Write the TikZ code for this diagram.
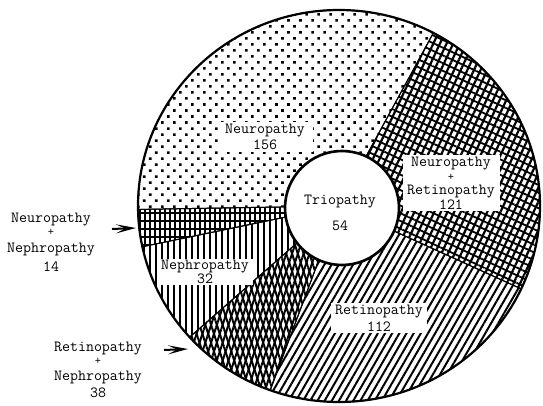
\documentclass[tikz,border=0pt]{standalone}
\usepackage{fontspec}
\usepackage{tikz}
\usetikzlibrary{patterns.meta,arrows.meta}
\newcommand{\plus}{{\fontsize{12}{12}\selectfont +}}

\begin{document}
\begin{tikzpicture}[x=1pt, y=1pt,
                    every node/.style={font=\ttfamily\fontsize{15.5}{16}\selectfont, align=center},
                    box/.style={fill=white, inner sep=2pt},
                    neurofill/.style={pattern={Dots[radius=1.8pt, distance=8.5pt, angle=45]}},
                    nrfill/.style={pattern={Lines[angle=65, distance=6pt, line width=2.2pt]},
                                   postaction={pattern={Lines[angle=-25, distance=7pt, line width=1.8pt]}}},
                    retfill/.style={pattern={Lines[angle=60, distance=6.2pt, line width=2pt]}},
                    rnfill/.style={pattern={Lines[angle=72, distance=5.5pt, line width=2pt]},
                                   postaction={pattern={Lines[angle=108, distance=5.5pt, line width=2pt]}}},
                    nephfill/.style={pattern={Lines[angle=90, distance=6pt, line width=2.2pt]}},
                    nnfill/.style={pattern={Lines[angle=90, distance=5pt, line width=2pt]},
                                   postaction={pattern={Lines[angle=0, distance=8pt, line width=1.5pt]}}},
                    pointer/.style={line width=2pt, -{Stealth[length=20pt, width=9pt, inset=9pt]}}]
  \useasboundingbox (0,0) rectangle (543,405);
  \coordinate (o) at (339,199);
  % sectors of the ring
  \foreach \a/\b/\s in {62/181/neurofill, 181/192/nnfill, 192/222/nephfill,
                        222/250/rnfill, 250/335/retfill, 335/422/nrfill}
    \draw[line width=1pt, \s] (o) -- +(\a:201 and 196)
      arc[start angle=\a, end angle=\b, x radius=201, y radius=196] -- cycle;
  \draw[line width=2.2pt] (o) ellipse [x radius=201, y radius=196];
  \node[circle, draw, fill=white, line width=2.6pt, minimum size=114pt] (tri) at (342,197) {};
  \node (trilabel) at (340,192) {Triopathy\\[10pt]54};
  % labels
  \node[box, minimum width=95pt] (neuro) at (265,268) {Neuropathy\\[0pt]156};
  \node[box, minimum width=97pt] (neuroret) at (451,222) {Neuropathy\\[-2pt]\plus\\[-2pt]Retinopathy\\[-1pt]121};
  \node[box, minimum width=96pt] (ret) at (379,87) {Retinopathy\\[1pt]112};
  \node[box, minimum width=96pt, inner sep=1pt] (neph) at (205,133) {Nephropathy\\[-2pt]32};
  \node (neuroneph) at (51,163) {Neuropathy\\[-3pt]\plus\\[1pt]Nephropathy\\[3pt]14};
  \node (retneph) at (98,35) {Retinopathy\\[-3pt]\plus\\[0pt]Nephropathy\\[1pt]38};
  % pointers
  \coordinate (nnTail) at (112,176);
  \coordinate (nnTip) at (136,177);
  \coordinate (rnTail) at (164,55);
  \coordinate (rnTip) at (188,56);
  \draw[pointer] (nnTail) -- (nnTip);
  \draw[pointer] (rnTail) -- (rnTip);
\end{tikzpicture}
\end{document}
